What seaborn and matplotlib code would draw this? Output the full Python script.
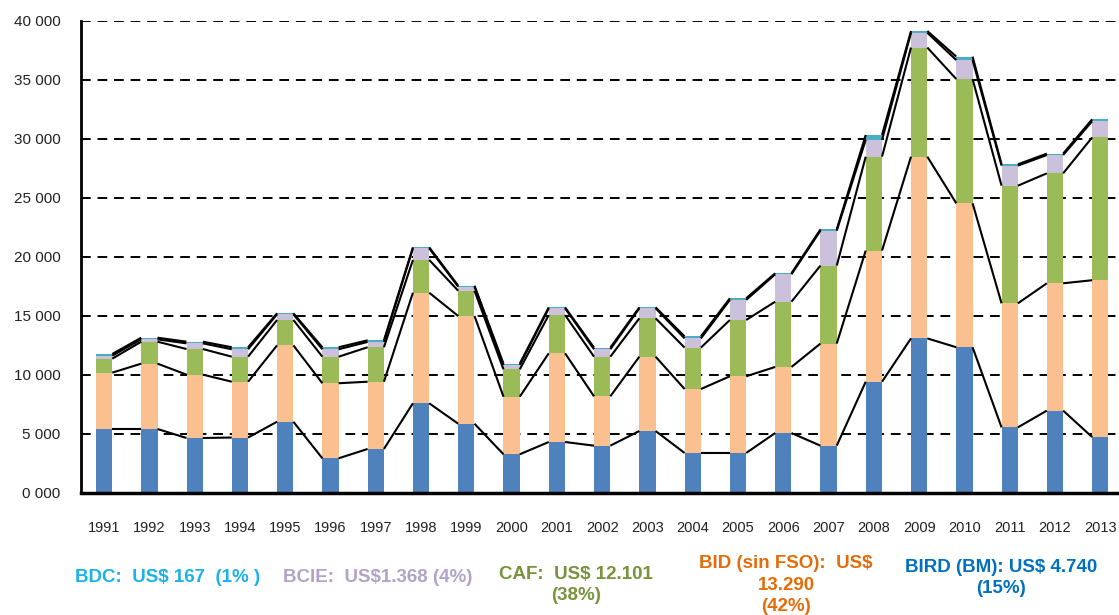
import numpy as np
import pandas as pd
import seaborn as sns
from matplotlib import pyplot as plt
from matplotlib.ticker import FuncFormatter

# === Data (US$ millions) ===
years = [str(y) for y in range(1991, 2014)]
bird = [5420, 5420, 4660, 4700, 6040, 2940, 3730, 7600, 5870, 3280, 4320, 4010,
        5250, 3390, 3390, 5080, 4010, 9430, 13100, 12350, 5560, 6980, 4740]
bid = [4780, 5540, 5370, 4730, 6470, 6360, 5700, 9370, 9130, 4880, 7520, 4180,
       6300, 5420, 6500, 5600, 8650, 11110, 15400, 12200, 10510, 10790, 13290]
caf = [1180, 1860, 2170, 2120, 2150, 2250, 2920, 2780, 2140, 2320, 3240, 3360,
       3250, 3510, 4770, 5530, 6610, 7960, 9250, 10530, 9970, 9320, 12101]
bcie = [250, 200, 480, 630, 480, 630, 450, 980, 340, 370, 570, 630,
        850, 780, 1700, 2320, 2960, 1420, 1250, 1610, 1700, 1550, 1368]
bdc = [150, 140, 140, 170, 90, 170, 140, 90, 90, 110, 80, 140,
       80, 170, 140, 90, 110, 420, 150, 290, 110, 120, 167]

series_names = ["BIRD", "BID", "CAF", "BCIE", "BDC"]
bar_colors = ["#4F81BD", "#FAC090", "#9BBB59", "#CCC1DA", "#4BACC6"]

labels = [
    ("BDC:  US$ 167  (1% )", "#1AB2EA"),
    ("BCIE:  US$1.368 (4%)", "#B3A2C7"),
    ("CAF:  US$ 12.101\n(38%)", "#77933C"),
    ("BID (sin FSO):  US$\n13.290\n(42%)", "#E46C0A"),
    ("BIRD (BM): US$ 4.740\n(15%)", "#0070C0"),
]

df = pd.DataFrame({"year": years, "BIRD": bird, "BID": bid, "CAF": caf,
                   "BCIE": bcie, "BDC": bdc})
cum = df[series_names].cumsum(axis=1)

sns.set_theme(style="white")
plt.rcParams["font.family"] = ["Liberation Sans", "DejaVu Sans"]

fig = plt.figure(figsize=(11.19, 6.15), dpi=100)
ax = fig.add_axes([0.0728, 0.1984, 0.9307, 0.7675])

# grid lines behind the bars
for v in range(5000, 40001, 5000):
    ax.axhline(v, color="black", lw=1.4, dashes=(5, 3.5), zorder=0)

# stacked bars: draw cumulative totals from the top series down
width = 0.36
for name, col in reversed(list(zip(series_names, bar_colors))):
    sns.barplot(x=df["year"], y=cum[name], color=col, width=width,
                saturation=1, ax=ax, zorder=2, linewidth=0)

# series lines between neighbouring bars
n = len(years)
for name in series_names:
    vals = cum[name].to_numpy()
    for i in range(n - 1):
        ax.plot([i + width / 2, i + 1 - width / 2], [vals[i], vals[i + 1]],
                color="black", lw=1.5, zorder=3, solid_capstyle="butt")

ax.set_xlim(-0.5, n - 0.5)
ax.set_ylim(0, 40000)
ax.set_yticks(range(0, 40001, 5000))
ax.yaxis.set_major_formatter(FuncFormatter(lambda v, p: f"{int(v // 1000)} 000"))
ax.set_xlabel("")
ax.set_ylabel("")
ax.tick_params(axis="y", length=0, pad=15, labelsize=11, labelcolor="#222222")
ax.tick_params(axis="x", length=0, pad=20, labelsize=10.5, labelcolor="#222222")

sns.despine(ax=ax, top=True, right=True)
ax.spines["left"].set_linewidth(2)
ax.spines["left"].set_color("black")
ax.spines["bottom"].set_linewidth(2.5)
ax.spines["bottom"].set_color("black")

# colored legend text under the chart
pos = [(168, 578), (378, 578), (576, 585), (786, 585), (1001, 578)]
for (txt, col), (px, py) in zip(labels, pos):
    fig.text(px / 1119, 1 - py / 615, txt, color=col, fontsize=13.5,
             fontweight="bold", ha="center", va="center", linespacing=1.35,
             family=["Liberation Sans Narrow", "Liberation Sans", "DejaVu Sans"])

fig.savefig("out.png", dpi=100)
